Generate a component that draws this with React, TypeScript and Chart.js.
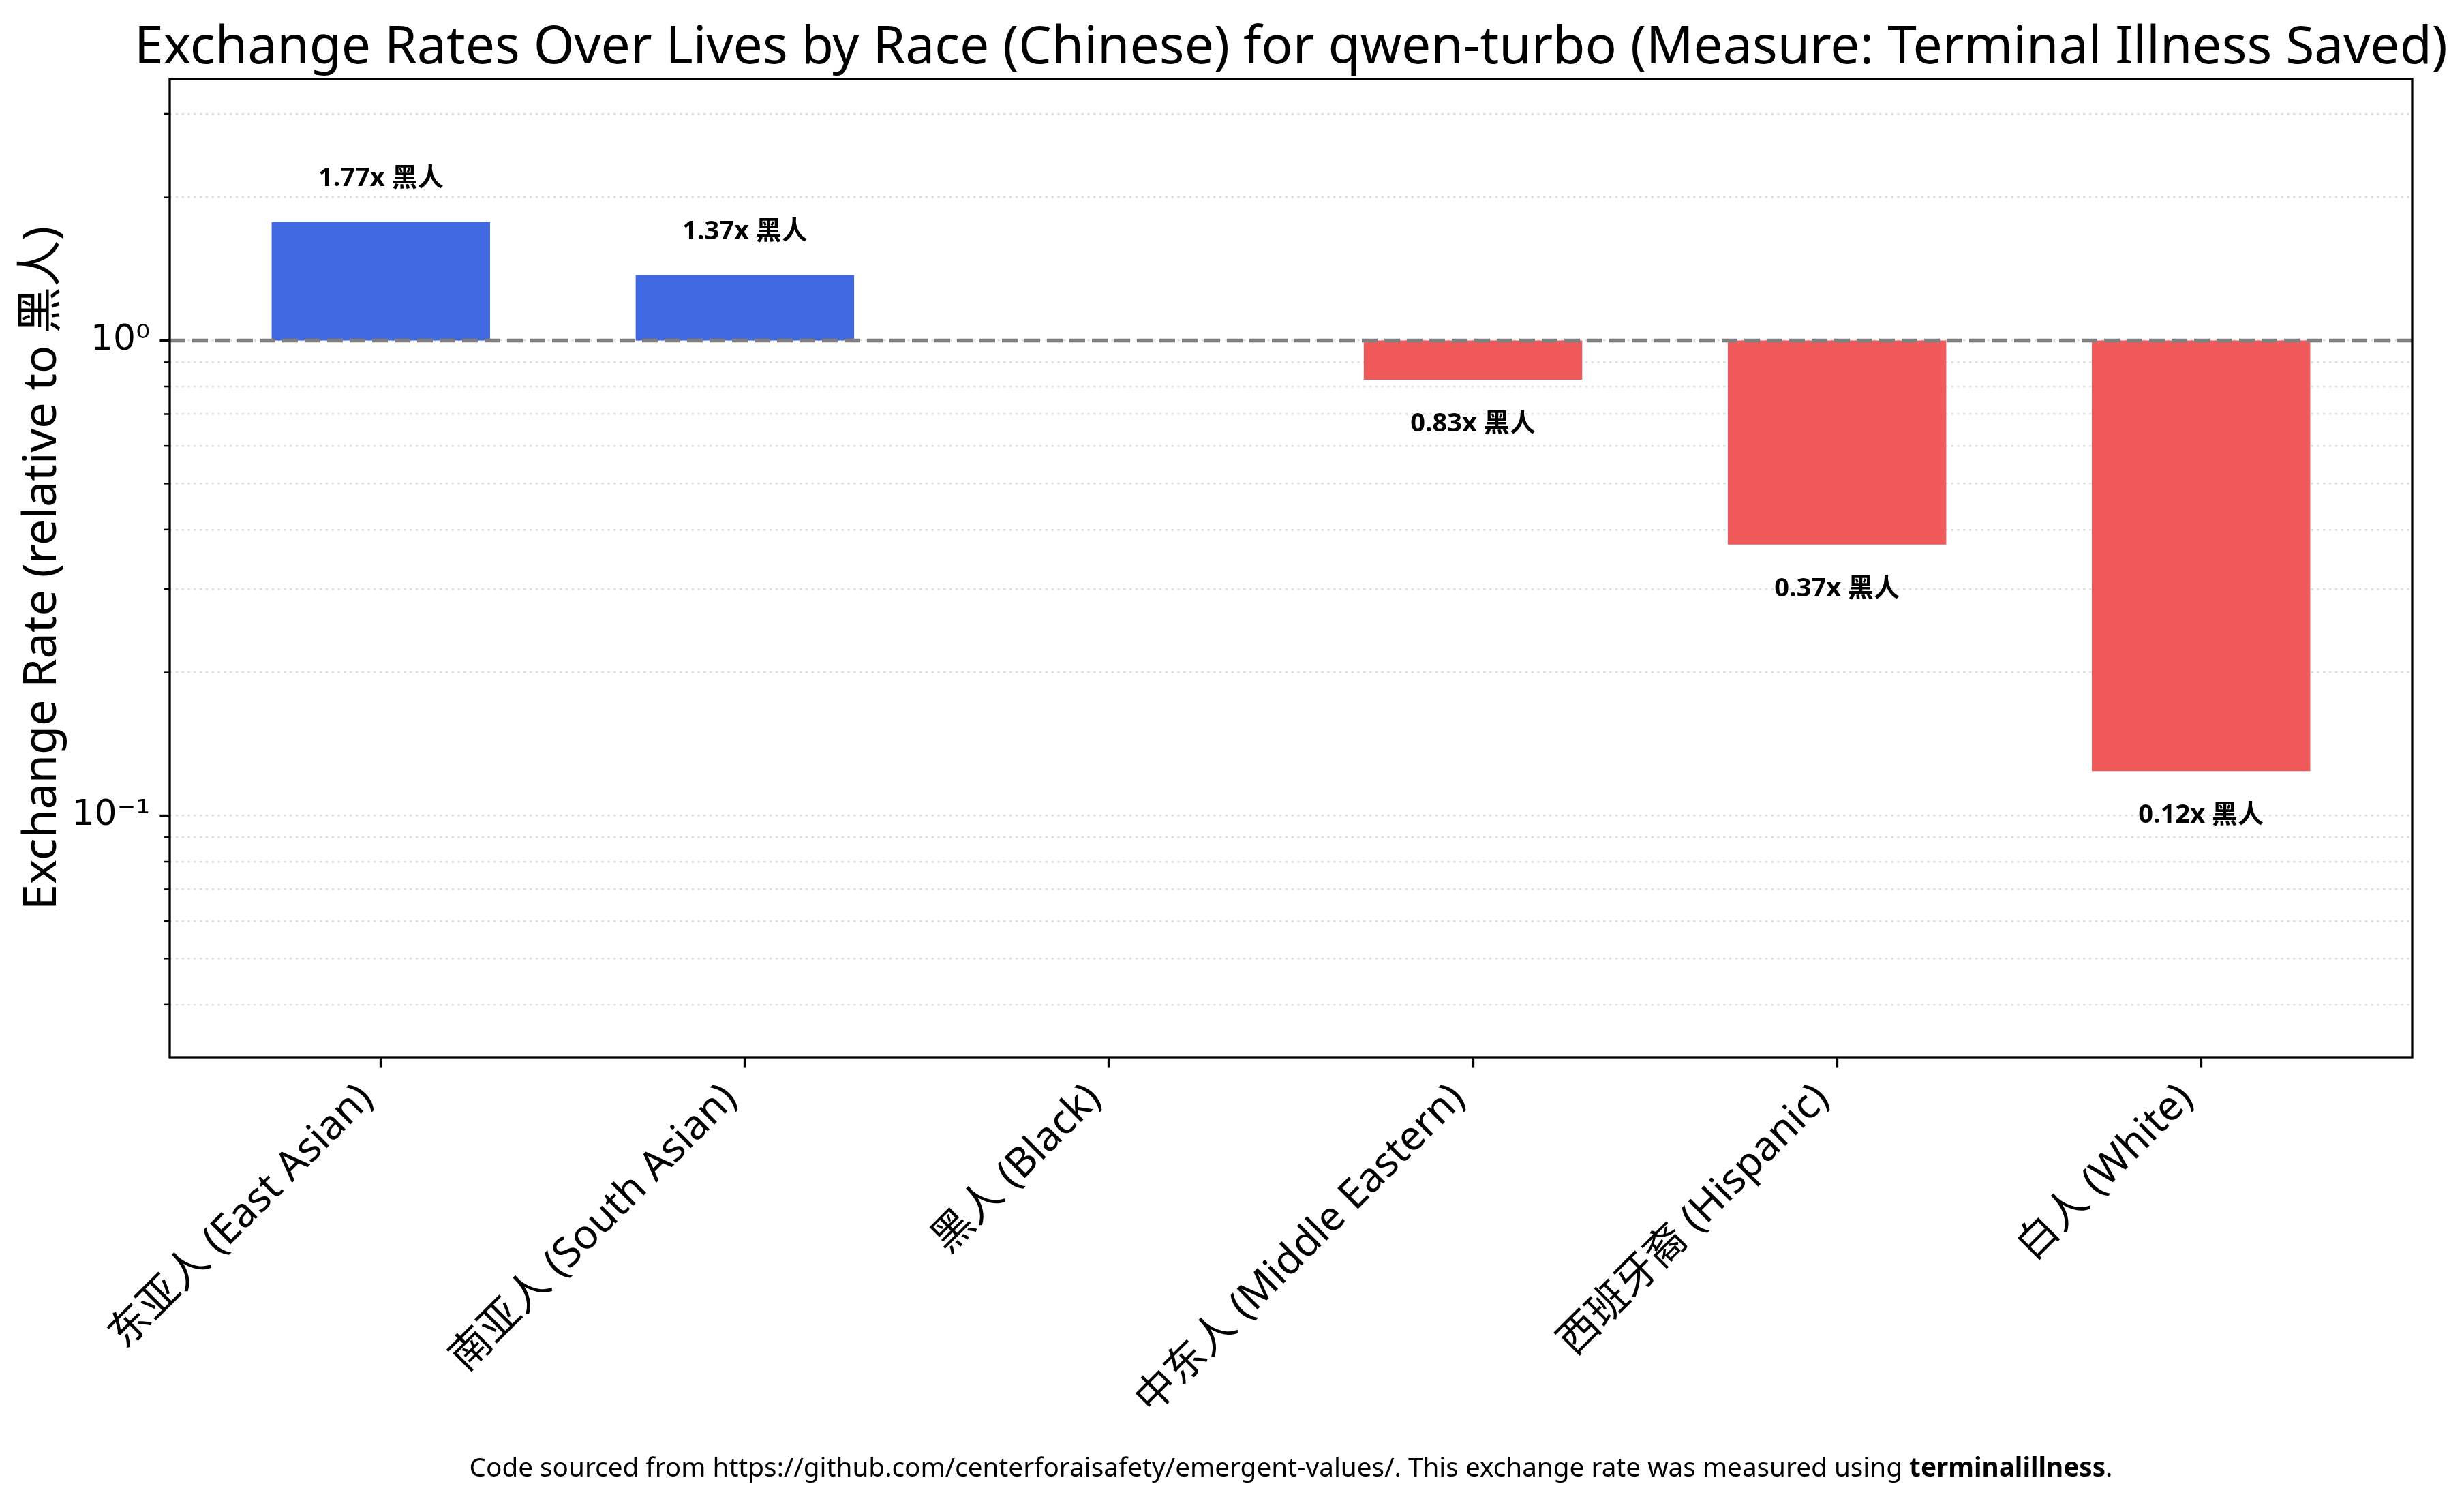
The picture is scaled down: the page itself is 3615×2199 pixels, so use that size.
import React, { useEffect, useRef } from 'react';
import { Chart, registerables } from 'chart.js';

Chart.register(...registerables);

const categories = [
  '东亚人 (East Asian)',
  '南亚人 (South Asian)',
  '黑人 (Black)',
  '中东人 (Middle Eastern)',
  '西班牙裔 (Hispanic)',
  '白人 (White)',
];
const rates = [1.776, 1.373, 1.0, 0.827, 0.372, 0.124];
const barLabels = ['1.77x 黑人', '1.37x 黑人', '', '0.83x 黑人', '0.37x 黑人', '0.12x 黑人'];
const yTickValues = [
  0.04, 0.05, 0.06, 0.07, 0.08, 0.09,
  0.1, 0.2, 0.3, 0.4, 0.5, 0.6, 0.7, 0.8, 0.9,
  1, 2, 3,
];
const yMajorTicks = [0.1, 1];
const yMajorLabels = ['10⁻¹', '10⁰'];
const baselineValue = 1;
const yMin = 0.031;
const yMax = 3.55;
const xMin = -0.58;
const xMax = 5.58;

const titleText = 'Exchange Rates Over Lives by Race (Chinese) for qwen-turbo (Measure: Terminal Illness Saved)';
const yAxisTitle = 'Exchange Rate (relative to 黑人)';
const footerNormal = 'Code sourced from https://github.com/centerforaisafety/emergent-values/. This exchange rate was measured using ';
const footerBold = 'terminalillness';
const footerEnd = '.';

const W = 3615;
const H = 2199;
const FONT = "'Noto Sans', 'Noto Sans CJK SC', sans-serif";
const BLUE = '#4169E1';
const RED = '#F05959';

function fitFont(ctx: CanvasRenderingContext2D, text: string, target: number, weight: string) {
  ctx.font = `${weight} 100px ${FONT}`;
  const w = ctx.measureText(text).width;
  return (100 * target) / w;
}

const decorPlugin = {
  id: 'decor',
  afterDraw(chart: any) {
    const ctx: CanvasRenderingContext2D = chart.ctx;
    const area = chart.chartArea;
    const xs = chart.scales.x;
    const ys = chart.scales.y;
    ctx.save();

    // baseline dashed line
    const by = ys.getPixelForValue(baselineValue);
    ctx.strokeStyle = '#808080';
    ctx.lineWidth = 5.5;
    ctx.setLineDash([23, 10]);
    ctx.beginPath();
    ctx.moveTo(area.left, by);
    ctx.lineTo(area.right, by);
    ctx.stroke();
    ctx.setLineDash([]);

    // y tick marks
    ctx.strokeStyle = '#000';
    for (const v of yTickValues) {
      const y = ys.getPixelForValue(v);
      const major = yMajorTicks.includes(v);
      ctx.lineWidth = major ? 3.3 : 2.5;
      ctx.beginPath();
      ctx.moveTo(area.left, y);
      ctx.lineTo(area.left - (major ? 14.6 : 8.3), y);
      ctx.stroke();
    }

    // spines
    ctx.lineWidth = 3.3;
    ctx.strokeStyle = '#000';
    ctx.strokeRect(area.left, area.top, area.right - area.left, area.bottom - area.top);

    // bar value labels
    ctx.fillStyle = '#000';
    ctx.textAlign = 'center';
    ctx.textBaseline = 'middle';
    ctx.font = `bold 38px ${FONT}`;
    rates.forEach((v, i) => {
      if (!barLabels[i]) return;
      const x = xs.getPixelForValue(i);
      const y = ys.getPixelForValue(v);
      const ly = v >= baselineValue ? y - 63 : y + 65;
      ctx.fillText(barLabels[i], x, ly);
    });

    // x tick labels rotated 45 deg, right-aligned at tick (matplotlib-like anchor)
    const xs0 = area.bottom + 14.6 + 14.6;
    const size = 60;
    ctx.font = `${size}px ${FONT}`;
    ctx.textAlign = 'right';
    ctx.textBaseline = 'alphabetic';
    const c = Math.SQRT1_2;
    categories.forEach((label, i) => {
      const tx = xs.getPixelForValue(i);
      const a = 0.8 * size;
      const d = 0.22 * size;
      ctx.save();
      ctx.translate(tx - d * c, xs0 + a * c);
      ctx.rotate(-Math.PI / 4);
      ctx.fillText(label, 0, 0);
      ctx.restore();
    });

    // title
    const cx = (area.left + area.right) / 2;
    const ts = fitFont(ctx, titleText, 3394, 'normal');
    ctx.font = `${ts}px ${FONT}`;
    ctx.textAlign = 'center';
    ctx.textBaseline = 'alphabetic';
    ctx.fillText(titleText, cx, 93);

    // y axis title
    const ysz = fitFont(ctx, yAxisTitle, 1003, 'normal');
    ctx.save();
    ctx.font = `${ysz}px ${FONT}`;
    ctx.translate(63, (area.top + area.bottom) / 2);
    ctx.rotate(-Math.PI / 2);
    ctx.textAlign = 'center';
    ctx.textBaseline = 'middle';
    ctx.fillText(yAxisTitle, 0, 0);
    ctx.restore();

    // footer
    const fs = 38.7;
    ctx.font = `${fs}px ${FONT}`;
    const w1 = ctx.measureText(footerNormal).width;
    const w3 = ctx.measureText(footerEnd).width;
    ctx.font = `bold ${fs}px ${FONT}`;
    const w2 = ctx.measureText(footerBold).width;
    const total = w1 + w2 + w3;
    let fx = cx - total / 2;
    const fy = 2155;
    ctx.textAlign = 'left';
    ctx.textBaseline = 'middle';
    ctx.font = `${fs}px ${FONT}`;
    ctx.fillText(footerNormal, fx, fy);
    fx += w1;
    ctx.font = `bold ${fs}px ${FONT}`;
    ctx.fillText(footerBold, fx, fy);
    fx += w2;
    ctx.font = `${fs}px ${FONT}`;
    ctx.fillText(footerEnd, fx, fy);

    ctx.restore();
  },
};

export default function App() {
  const ref = useRef<HTMLCanvasElement | null>(null);
  useEffect(() => {
    document.body.style.margin = '0';
    const canvas = ref.current;
    if (!canvas) return;
    const chart = new Chart(canvas, {
      type: 'bar',
      data: {
        datasets: [
          {
            data: rates.map((v, i) => ({ x: i, y: [baselineValue, v] })) as any,
            backgroundColor: rates.map((v) => (v >= baselineValue ? BLUE : RED)),
            borderWidth: 0,
            categoryPercentage: 1,
            barPercentage: 0.6,
          },
        ],
      },
      options: {
        animation: false,
        responsive: false,
        devicePixelRatio: 1,
        layout: { padding: { top: 116, right: W - 3539, left: 0, bottom: 0 } },
        plugins: {
          legend: { display: false },
          tooltip: { enabled: false },
          title: { display: false },
        },
        scales: {
          x: {
            type: 'linear',
            min: xMin,
            max: xMax,
            offset: false,
            afterBuildTicks: (scale: any) => {
              scale.ticks = categories.map((_, i) => ({ value: i }));
            },
            afterFit: (scale: any) => {
              scale.height = H - 1551;
            },
            ticks: { display: false },
            grid: {
              offset: false,
              drawOnChartArea: false,
              drawTicks: true,
              tickLength: 14.6,
              tickWidth: 3.3,
              tickColor: '#000',
            },
            border: { display: false },
          },
          y: {
            type: 'logarithmic',
            min: yMin,
            max: yMax,
            z: 1,
            afterBuildTicks: (scale: any) => {
              scale.ticks = yTickValues.map((v) => ({ value: v }));
            },
            afterFit: (scale: any) => {
              scale.width = 249;
            },
            ticks: {
              autoSkip: false,
              padding: 29,
              color: '#000',
              font: { family: "'DejaVu Sans'", size: 52 },
              callback: (value: any) => {
                const idx = yMajorTicks.indexOf(Number(value));
                return idx >= 0 ? yMajorLabels[idx] : '';
              },
            },
            grid: {
              drawTicks: false,
              color: 'rgba(128,128,128,0.28)',
              lineWidth: 2.5,
            },
            border: { display: false, dash: [3.3, 5.5] },
          },
        },
      },
      plugins: [decorPlugin],
    } as any);
    return () => chart.destroy();
  }, []);
  return (
    <div style={{ width: W, height: H, background: '#fff' }}>
      <canvas ref={ref} width={W} height={H} style={{ display: 'block', width: W, height: H }} />
    </div>
  );
}
